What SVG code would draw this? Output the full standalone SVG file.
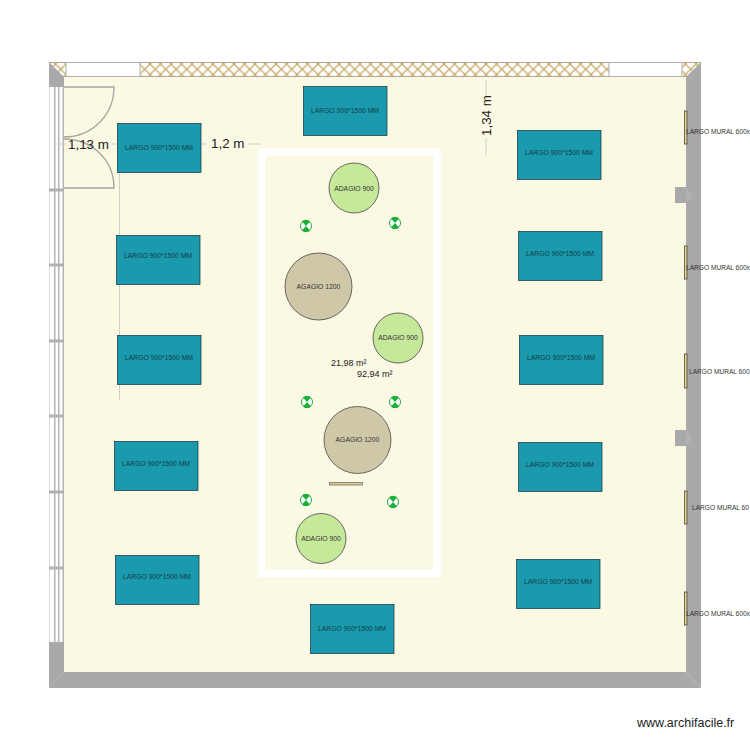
<svg xmlns="http://www.w3.org/2000/svg" width="750" height="750" viewBox="0 0 750 750">
<style>
text{font-family:"Liberation Sans",Arial,sans-serif;fill:#222}
.t rect{fill:#1a9aac;stroke:#10303a;stroke-width:.7}
.t text{font-size:6.8px;text-anchor:middle;fill:#123c4c}
.c900 circle{fill:#c6e89a;stroke:#333;stroke-width:.7}
.c1200 circle{fill:#cfc8a8;stroke:#333;stroke-width:.7}
.c900 text,.c1200 text{font-size:6.8px;text-anchor:middle;fill:#333}
.mural rect{fill:#e8d48c;stroke:#333;stroke-width:.7}
.mural text{font-size:6.6px;fill:#333}
.dim{font-size:13.4px;fill:#222}
.area{font-size:9px}
.dl{stroke:#d0d0c8;stroke-width:1;fill:none}
.door{stroke:#a8a49c;stroke-width:1.300;fill:none}
.gn{fill:#fff;stroke:#1fae3c;stroke-width:1}
.gw{fill:#1fae3c}
</style>
<defs>
<pattern id="hatch" width="10.500" height="10.500" patternUnits="userSpaceOnUse" patternTransform="translate(3 64)">
<rect width="10.500" height="10.500" fill="#fff"/>
<path d="M0 0L10.500 10.500M10.500 0L0 10.500" stroke="#c4a860" stroke-width="1.200"/>
</pattern>
<g id="green"><circle r="5.500" class="gn"/><path class="gw" d="M-4 -4.600A6 6 0 0 1 4 -4.600L0 0ZM-4 4.600A6 6 0 0 0 4 4.600L0 0Z"/></g>
</defs>
<g id="room">
<rect x="49" y="62" width="652" height="626" fill="#a9a9a9"/>
<rect x="64" y="77" width="622" height="595" fill="#fbf8e4"/>
<path d="M686 672L701 688M49 688L64 672" stroke="#c4c4c4" stroke-width=".6"/>
<rect x="49.500" y="62.500" width="651" height="14" fill="url(#hatch)" stroke="#b0a890"/>
<path d="M49 62L64 77V87H49Z" fill="#a9a9a9"/>
<path d="M701 62L686 77H701Z" fill="#a9a9a9"/>
<rect x="66" y="62.500" width="74" height="14" fill="#fff" stroke="#b0b0b0"/>
<rect x="609" y="62.500" width="73" height="14" fill="#fff" stroke="#b0b0b0"/>
<rect x="49" y="87" width="15" height="555" fill="#b4b4b4"/>
<rect x="49.500" y="87" width="4.500" height="555" fill="#fff"/>
<rect x="55.500" y="87" width="2.500" height="555" fill="#fff"/>
<rect x="59.500" y="87" width="3" height="555" fill="#fff"/>
<path d="M49 190H64M49 265H64M49 341H64M49 416H64M49 492H64M49 568H64" stroke="#b0b0b0" stroke-width="3"/>
<rect x="675" y="187" width="12" height="16" fill="#a9a9a9"/>
<path d="M686 187L692 195L686 203" fill="#b2b2b2"/>
<rect x="675" y="430" width="12" height="16" fill="#a9a9a9"/>
<path d="M686 430L692 438L686 446" fill="#b2b2b2"/>
</g>
<g id="door" class="door">
<path d="M64 87H114C114 115 92 137 64 137"/>
<path d="M64 188H114C114 160 92 139 64 139"/>
</g>
<rect id="frame" x="261.500" y="152" width="175.500" height="421.500" fill="none" stroke="#fff" stroke-width="7.500"/>
<g id="connectors">
<path class="dl" d="M57 144H66M112 144H120M186 144H207M248 144H261M486 80V97M486 138V155M119.500 173V400"/>
</g>
<g class="t" id="table-1"><rect x="303.500" y="86.500" width="83.500" height="49"/><text x="345" y="113">LARGO 900*1500 MM</text></g>
<g class="t" id="table-2"><rect x="117.500" y="123.500" width="83.500" height="49"/><text x="159" y="150">LARGO 900*1500 MM</text></g>
<g class="t" id="table-3"><rect x="116.500" y="235.500" width="83.500" height="49"/><text x="158" y="258">LARGO 900*1500 MM</text></g>
<g class="t" id="table-4"><rect x="117.500" y="335.500" width="83.500" height="49"/><text x="159" y="360">LARGO 900*1500 MM</text></g>
<g class="t" id="table-5"><rect x="114.500" y="441.500" width="83.500" height="49"/><text x="156" y="466">LARGO 900*1500 MM</text></g>
<g class="t" id="table-6"><rect x="115.500" y="555.500" width="83.500" height="49"/><text x="157" y="579">LARGO 900*1500 MM</text></g>
<g class="t" id="table-7"><rect x="310.500" y="604.500" width="83.500" height="49"/><text x="352" y="631">LARGO 900*1500 MM</text></g>
<g class="t" id="table-8"><rect x="517.500" y="130.500" width="83.500" height="49"/><text x="559" y="155">LARGO 900*1500 MM</text></g>
<g class="t" id="table-9"><rect x="518.500" y="231.500" width="83.500" height="49"/><text x="560" y="256">LARGO 900*1500 MM</text></g>
<g class="t" id="table-10"><rect x="519.500" y="335.500" width="83.500" height="49"/><text x="561" y="360">LARGO 900*1500 MM</text></g>
<g class="t" id="table-11"><rect x="518.500" y="442.500" width="83.500" height="49"/><text x="560" y="467">LARGO 900*1500 MM</text></g>
<g class="t" id="table-12"><rect x="516.500" y="559.500" width="83.500" height="49"/><text x="558" y="584">LARGO 900*1500 MM</text></g>
<g class="c900" id="round-1"><circle cx="354" cy="188" r="25"/><text x="354" y="191">ADAGIO 900</text></g>
<g class="c1200" id="round-2"><circle cx="318.500" cy="286.500" r="33.500"/><text x="318.500" y="289">AGAGIO 1200</text></g>
<g class="c900" id="round-3"><circle cx="398" cy="338" r="25"/><text x="398" y="340">ADAGIO 900</text></g>
<g class="c1200" id="round-4"><circle cx="357.500" cy="440" r="33.500"/><text x="357.500" y="442">AGAGIO 1200</text></g>
<g class="c900" id="round-5"><circle cx="321" cy="538.500" r="25"/><text x="321" y="541">ADAGIO 900</text></g>
<g id="seats">
<use href="#green" x="306" y="226"/><use href="#green" x="395" y="223"/>
<use href="#green" x="307" y="402"/><use href="#green" x="395" y="402"/>
<use href="#green" x="306" y="500"/><use href="#green" x="393" y="502"/>
</g>
<rect id="bar" x="329.500" y="482.500" width="33" height="2.500" fill="#d8cc88" stroke="#777" stroke-width=".8"/>
<g class="mural" id="mural-1"><rect x="684.500" y="111" width="2.500" height="33"/><text x="686" y="134">LARGO MURAL 600x</text></g>
<g class="mural" id="mural-2"><rect x="684.500" y="246" width="2.500" height="33"/><text x="686" y="270">LARGO MURAL 600x</text></g>
<g class="mural" id="mural-3"><rect x="684.500" y="354" width="2.500" height="34"/><text x="689" y="374">LARGO MURAL 600</text></g>
<g class="mural" id="mural-4"><rect x="684.500" y="491" width="2.500" height="33"/><text x="692" y="510">LARGO MURAL 60</text></g>
<g class="mural" id="mural-5"><rect x="684.500" y="592" width="2.500" height="33"/><text x="686" y="616">LARGO MURAL 600x</text></g>
<g id="labels">
<text class="dim" x="68" y="149">1,13 m</text>
<text class="dim" x="211" y="148">1,2 m</text>
<text class="dim" transform="translate(491 136) rotate(-90)">1,34 m</text>
<text class="area" x="331" y="366">21,98 m²</text>
<text class="area" x="357" y="377">92,94 m²</text>
<text x="637" y="727" font-size="12.500">www.archifacile.fr</text>
</g>
</svg>
